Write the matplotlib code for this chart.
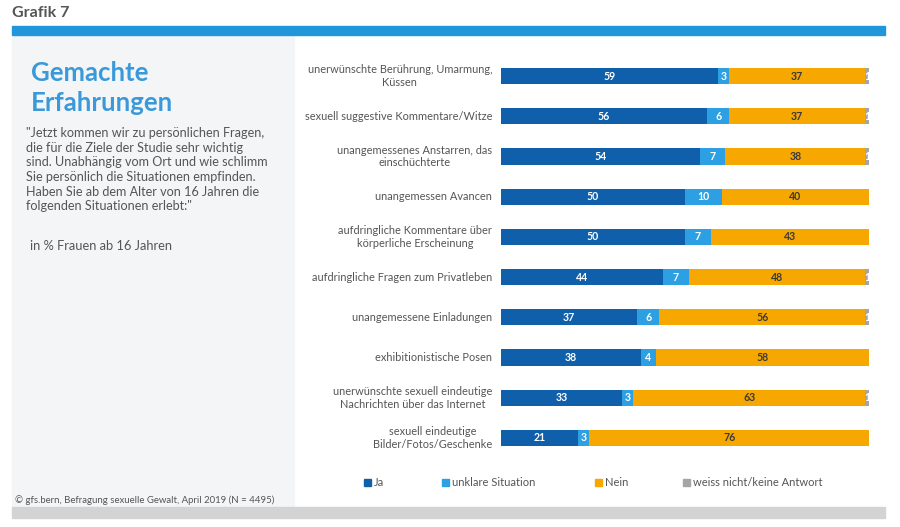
import matplotlib
matplotlib.use('Agg')
import matplotlib.pyplot as plt
from matplotlib.patches import Rectangle
import numpy as np

plt.rcParams['font.family'] = ['Lato', 'DejaVu Sans']

categories = [
    'unerwünschte Berührung, Umarmung,\nKüssen',
    'sexuell suggestive Kommentare/Witze',
    'unangemessenes Anstarren, das\neinschüchterte',
    'unangemessen Avancen',
    'aufdringliche Kommentare über\nkörperliche Erscheinung',
    'aufdringliche Fragen zum Privatleben',
    'unangemessene Einladungen',
    'exhibitionistische Posen',
    'unerwünschte sexuell eindeutige\nNachrichten über das Internet',
    'sexuell eindeutige\nBilder/Fotos/Geschenke',
]
ja = [59, 56, 54, 50, 50, 44, 37, 38, 33, 21]
unklar = [3, 6, 7, 10, 7, 7, 6, 4, 3, 3]
nein = [37, 37, 38, 40, 43, 48, 56, 58, 63, 76]
weiss = [1, 1, 1, 0, 0, 1, 1, 0, 1, 0]

series_names = ['Ja', 'unklare Situation', 'Nein', 'weiss nicht/keine Antwort']
colors = ['#0f5fab', '#2d9fe3', '#f6a800', '#a3a5a8']
text_colors = ['white', 'white', '#3a3a3a', 'white']

W, H = 900, 527
fig = plt.figure(figsize=(W / 100, H / 100), dpi=100)
fig.patch.set_facecolor('white')

def fx(px):
    return px / W

def fy(py):
    return 1 - py / H

# header / frame
fig.text(fx(12), fy(13), 'Grafik 7', fontsize=11.5, fontweight='bold', color='#555555', va='center')
fig.patches.append(Rectangle((fx(12), fy(35)), fx(885) - fx(12), 9 / H,
                             transform=fig.transFigure, color='#2296db', zorder=1))
fig.patches.append(Rectangle((fx(12), fy(507)), fx(294) - fx(12), 472 / H,
                             transform=fig.transFigure, color='#f4f5f7', zorder=0))
fig.patches.append(Rectangle((fx(12), fy(518)), fx(885) - fx(12), 11 / H,
                             transform=fig.transFigure, color='#d3d3d3', zorder=1))

# left panel text
fig.text(fx(31), fy(73), 'Gemachte', fontsize=18.5, fontweight='bold', color='#3a9ad9', va='center')
fig.text(fx(31), fy(103), 'Erfahrungen', fontsize=18.5, fontweight='bold', color='#3a9ad9', va='center')
quote = ('"Jetzt kommen wir zu persönlichen Fragen,\n'
         'die für die Ziele der Studie sehr wichtig\n'
         'sind. Unabhängig vom Ort und wie schlimm\n'
         'Sie persönlich die Situationen empfinden.\n'
         'Haben Sie ab dem Alter von 16 Jahren die\n'
         'folgenden Situationen erlebt:"')
fig.text(fx(26), fy(127), quote, fontsize=9.1, color='#555555', va='top', linespacing=1.27)
fig.text(fx(30), fy(246), 'in % Frauen ab 16 Jahren', fontsize=9.3, color='#555555', va='center')
fig.text(fx(15), fy(500), '© gfs.bern, Befragung sexuelle Gewalt, April 2019 (N = 4495)',
         fontsize=6.9, color='#555555', va='center')

# bar chart
ax = fig.add_axes([fx(501), fy(458), fx(869) - fx(501), 402 / H])
y = np.arange(len(categories))
left = np.zeros(len(categories))
for vals, name, c, tc in zip([ja, unklar, nein, weiss], series_names, colors, text_colors):
    vals = np.array(vals)
    ax.barh(y, vals, left=left, height=0.4, color=c, label=name)
    for yi, v, l in zip(y, vals, left):
        if v > 0:
            ax.text(l + v / 2, yi, str(v), ha='center', va='center', fontsize=7.6,
                    fontweight='bold', color=tc)
    left = left + vals

for yi, cat in zip(y, categories):
    ax.text(-2.4, yi, cat, ha='right', va='center', multialignment='center',
            fontsize=7.9, color='#555555', linespacing=1.2)

ax.set_xlim(0, 100)
ax.set_ylim(len(categories) - 0.5, -0.5)
ax.axis('off')

# legend
leg_x = [364, 442, 595, 683]
for lx, name, c in zip(leg_x, series_names, colors):
    fig.patches.append(Rectangle((fx(lx), fy(486)), 7 / W, 7 / H,
                                 transform=fig.transFigure, color=c))
    fig.text(fx(lx + 10), fy(482), name, fontsize=8, color='#555555', va='center')

fig.savefig('out.png', dpi=100)
